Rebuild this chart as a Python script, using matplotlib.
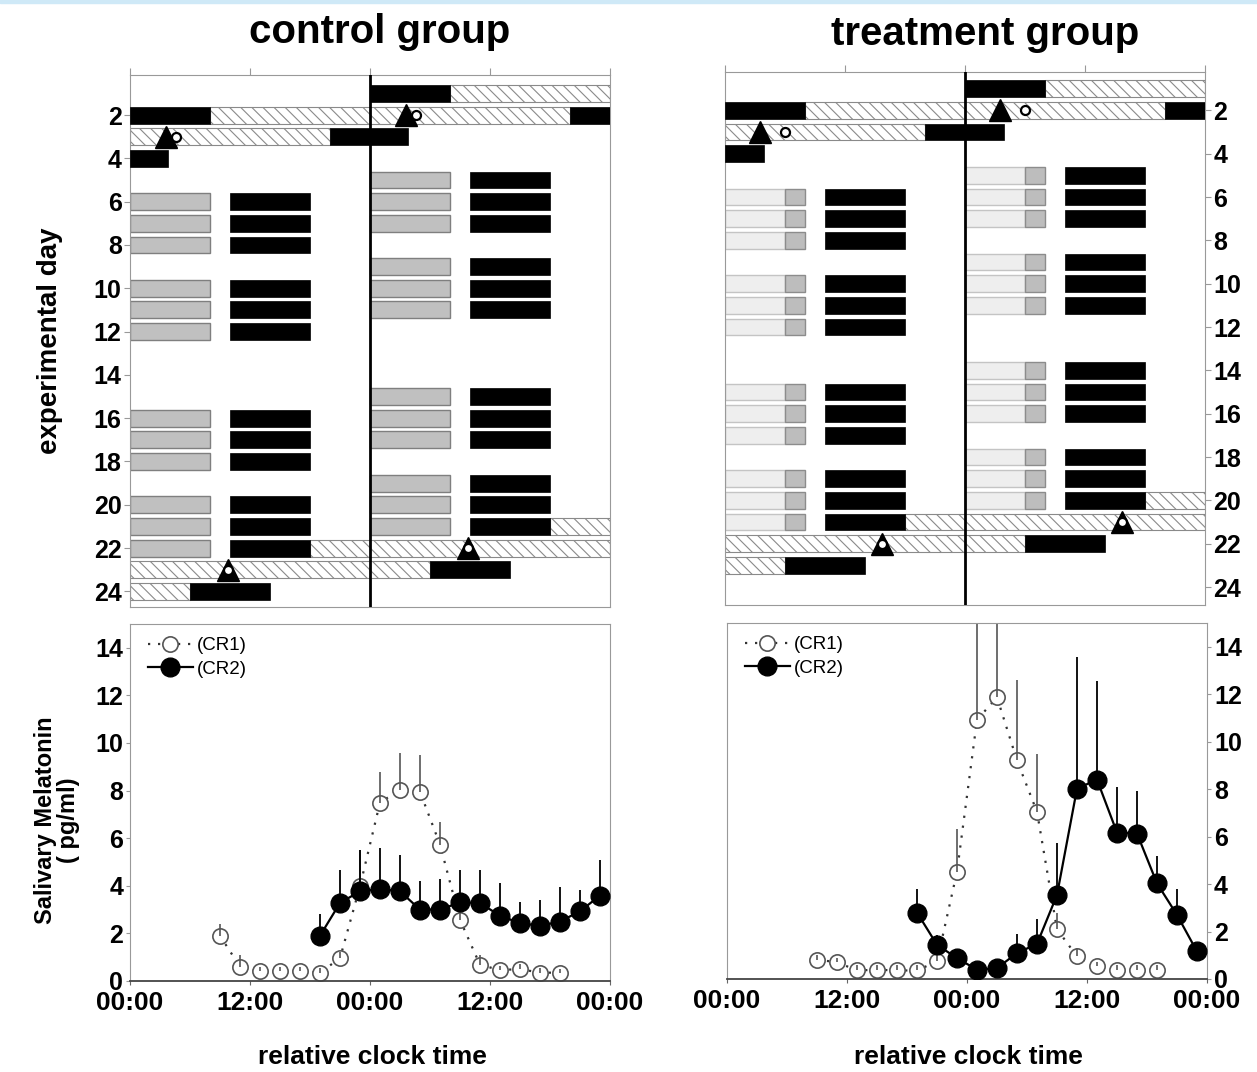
import matplotlib
matplotlib.use('Agg')
import matplotlib.pyplot as plt
import numpy as np
from matplotlib import font_manager as fm
from matplotlib.patches import Rectangle

# ---------------- data ----------------
rows = list(range(1, 25))
day_ticks = list(range(2, 25, 2))
clock_ticks = [0, 12, 24, 36, 48]
clock_labels = ['00:00', '12:00', '00:00', '12:00', '00:00']
mel_ticks = list(range(0, 15, 2))

# actogram episodes: (day, start hour, end hour); end > 24 runs into next day
ctrl_sched_days = [6, 7, 8, 10, 11, 12, 16, 17, 18, 20, 21, 22]
ctrl_light = [(d, 0, 8) for d in ctrl_sched_days]
ctrl_sleep = [(2, 0, 8), (3, 20, 27.75), (24, 6, 14)] + [(d, 10, 18) for d in ctrl_sched_days]
ctrl_cr = [(2, 8, 44), (22, 18, 54)]
ctrl_tri = [(3, 3.6), (23, 9.8)]
ctrl_circ = [(3, 4.6), (23, 9.8)]

trt_sched_days = [6, 7, 8, 10, 11, 12, 15, 16, 17, 19, 20, 21]
trt_light_dim = [(d, 0, 6) for d in trt_sched_days]
trt_light_bright = [(d, 6, 8) for d in trt_sched_days]
trt_sleep = [(2, 0, 8), (3, 20, 27.9), (23, 6, 14)] + [(d, 10, 18) for d in trt_sched_days]
trt_cr = [(2, 8, 44), (21, 18, 54)]
trt_tri = [(3, 3.5), (22, 15.7)]
trt_circ = [(3, 6.0), (22, 15.7)]

# salivary melatonin (pg/ml), relative clock hours
cr1_hours = [9, 11, 13, 15, 17, 19, 21, 23, 25, 27, 29, 31, 33, 35, 37, 39, 41, 43]
cr2_hours = [19, 21, 23, 25, 27, 29, 31, 33, 35, 37, 39, 41, 43, 45, 47]

ctrl_cr1 = [1.9, 0.6, 0.4, 0.4, 0.42, 0.35, 0.96, 3.98, 7.5, 8.03, 7.95, 5.73, 2.57, 0.68, 0.46, 0.5, 0.35, 0.35]
ctrl_cr1_err = [0.5, 0.5, 0.2, 0.2, 0.18, 0.2, 0.24, 1.52, 1.3, 1.57, 1.55, 0.97, 0.73, 0.42, 0.19, 0.2, 0.2, 0.15]
ctrl_cr2 = [1.9, 3.28, 3.77, 3.87, 3.77, 3.0, 3.0, 3.3, 3.28, 2.74, 2.43, 2.32, 2.5, 2.93, 3.59]
ctrl_cr2_err = [0.9, 1.37, 1.73, 1.73, 1.53, 1.2, 1.3, 1.35, 1.37, 1.36, 0.87, 1.08, 1.45, 0.91, 1.51]

trt_cr1 = [0.81, 0.71, 0.36, 0.39, 0.36, 0.36, 0.74, 4.52, 10.92, 11.87, 9.21, 7.04, 2.1, 0.95, 0.53, 0.39, 0.39, 0.39]
trt_cr1_err = [0.19, 0.19, 0.24, 0.21, 0.24, 0.24, 0.26, 1.82, 6.0, 5.5, 3.39, 2.42, 0.67, 0.35, 0.17, 0.21, 0.21, 0.21]
trt_cr2 = [2.8, 1.44, 0.88, 0.39, 0.46, 1.09, 1.48, 3.54, 8.02, 8.4, 6.17, 6.13, 4.03, 2.7, 1.16]
trt_cr2_err = [0.98, 0.42, 0.22, 0.21, 0.24, 0.81, 1.04, 2.2, 5.56, 4.17, 1.92, 1.79, 1.15, 1.08, 0.24]

# ---------------- fonts ----------------
def has_font(name):
    try:
        fm.findfont(fm.FontProperties(family=name), fallback_to_default=False)
        return True
    except Exception:
        return False

BASE = 'Liberation Sans' if has_font('Liberation Sans') else 'DejaVu Sans'
NARROW = 'Liberation Sans Narrow' if has_font('Liberation Sans Narrow') else BASE
plt.rcParams['font.family'] = [BASE, 'DejaVu Sans']
plt.rcParams['hatch.linewidth'] = 0.8
XT_SIZE = 24 if NARROW != BASE else 19

W, H = 1257, 1072
fig = plt.figure(figsize=(W / 100, H / 100), dpi=100)
fig.patches.append(Rectangle((0, 1 - 3 / H), 1, 3 / H, transform=fig.transFigure,
                             color='#cfe9f7', zorder=0))

def fax(x0, y0, x1, y1):
    return fig.add_axes([x0 / W, 1 - y1 / H, (x1 - x0) / W, (y1 - y0) / H])

SPINE = '#999999'
BH = 0.78

def draw_episodes(ax, eps, **kw):
    for day, s, e in eps:
        a0 = (day - 1) * 24 + s
        a1 = (day - 1) * 24 + e
        for r in rows:
            w0 = (r - 1) * 24
            lo, hi = max(a0, w0), min(a1, w0 + 48)
            if hi > lo:
                ax.barh(r, hi - lo, left=lo - w0, height=BH, **kw)

def draw_marks(ax, marks, **kw):
    for day, h in marks:
        a = (day - 1) * 24 + h
        for r in rows:
            x = a - (r - 1) * 24
            if 0 <= x < 48:
                ax.plot([x], [r], **kw)

def actogram(ax, light_specs, sleep, cr, tri, circ, ylim, right):
    for eps, fc, ec in light_specs:
        draw_episodes(ax, eps, color=fc, edgecolor=ec, linewidth=1.0, zorder=2)
    draw_episodes(ax, cr, facecolor='white', edgecolor='#8a8a8a', hatch='\\\\\\',
                  linewidth=0.8, zorder=2)
    draw_episodes(ax, sleep, color='black', edgecolor='black', linewidth=0.5, zorder=3)
    ax.axvline(24, color='black', lw=2.0, zorder=4)
    draw_marks(ax, tri, marker='^', ms=16, color='black', ls='none', zorder=5)
    draw_marks(ax, circ, marker='o', ms=6.5, mfc='white', mec='black', mew=1.6,
               ls='none', zorder=6)
    ax.set_xlim(0, 48)
    ax.set_ylim(*ylim)
    for sp in ax.spines.values():
        sp.set_color(SPINE)
    ax.xaxis.tick_top()
    ax.set_xticks(clock_ticks, [''] * len(clock_ticks))
    ax.tick_params(axis='x', which='both', top=True, bottom=False, direction='out',
                   length=5, color=SPINE)
    ax.set_yticks(day_ticks, [str(d) for d in day_ticks], fontsize=18, fontweight='bold')
    if right:
        ax.yaxis.tick_right()
    ax.tick_params(axis='y', direction='out', length=4, color=SPINE, pad=2)

ax1 = fax(130, 75, 610, 607)
actogram(ax1, [(ctrl_light, '#c0c0c0', '#7f7f7f')], ctrl_sleep, ctrl_cr,
         ctrl_tri, ctrl_circ, (24.72, 0.15), right=False)
ax2 = fax(725, 72, 1205, 605)
actogram(ax2, [(trt_light_dim, '#eeeeee', '#c4c4c4'), (trt_light_bright, '#bdbdbd', '#8c8c8c')],
         trt_sleep, trt_cr, trt_tri, trt_circ, (24.83, 0.23), right=True)

def melatonin(ax, cr1, cr1e, cr2, cr2e, right):
    ax.errorbar(cr2_hours, cr2, yerr=[np.zeros(len(cr2)), cr2e], fmt='none',
                ecolor='black', elinewidth=1.3, capsize=0, zorder=3)
    ax.errorbar(cr1_hours, cr1, yerr=[np.zeros(len(cr1)), cr1e], fmt='none',
                ecolor='#555555', elinewidth=1.2, capsize=0, zorder=2.5)
    ax.plot(cr1_hours, cr1, linestyle=(0, (1, 3.5)), color='#333333', lw=1.6,
            marker='o', ms=11, mfc='white', mec='#555555', mew=1.2, zorder=2, label='(CR1)')
    ax.plot(cr2_hours, cr2, linestyle='-', color='black', lw=1.6,
            marker='o', ms=13.5, mfc='black', mec='black', zorder=4, label='(CR2)')
    ax.set_xlim(0, 48)
    ax.set_ylim(0, 15)
    for name, sp in ax.spines.items():
        sp.set_color(SPINE)
    ax.spines['bottom'].set_color('#444444')
    ax.spines['bottom'].set_linewidth(1.3)
    ax.set_xticks(clock_ticks, clock_labels, fontsize=XT_SIZE, fontweight='bold',
                  fontfamily=NARROW)
    ax.tick_params(axis='x', direction='out', length=3, color='#666666', pad=4)
    ax.set_yticks(mel_ticks, [str(v) for v in mel_ticks], fontsize=18, fontweight='bold')
    if right:
        ax.yaxis.tick_right()
    ax.tick_params(axis='y', direction='out', length=3, color=SPINE, pad=2)
    ax.legend(loc='upper left', frameon=False, fontsize=13.5, handlelength=2.4,
              handletextpad=0.2, borderaxespad=0.3, labelspacing=0.35,
              bbox_to_anchor=(0.01, 1.0))

ax3 = fax(130, 624, 610, 981)
melatonin(ax3, ctrl_cr1, ctrl_cr1_err, ctrl_cr2, ctrl_cr2_err, right=False)
ax4 = fax(727, 623, 1207, 979)
melatonin(ax4, trt_cr1, trt_cr1_err, trt_cr2, trt_cr2_err, right=True)

# ---------------- texts ----------------
fig.text(380 / W, 1 - 32 / H, 'control group', fontsize=29, fontweight='bold',
         ha='center', va='center')
fig.text(985 / W, 1 - 34 / H, 'treatment group', fontsize=29, fontweight='bold',
         ha='center', va='center')
fig.text(50 / W, 1 - 341 / H, 'experimental day', fontsize=20, fontweight='bold',
         ha='center', va='center', rotation=90)
fig.text(57 / W, 1 - 820 / H, 'Salivary Melatonin\n( pg/ml)', fontsize=17, fontweight='bold',
         ha='center', va='center', rotation=90, multialignment='center', linespacing=1.05)
fig.text(372 / W, 1 - 1057 / H, 'relative clock time', fontsize=19, fontweight='bold',
         ha='center', va='center')
fig.text(968 / W, 1 - 1057 / H, 'relative clock time', fontsize=19, fontweight='bold',
         ha='center', va='center')

fig.savefig('out.png', dpi=100)
